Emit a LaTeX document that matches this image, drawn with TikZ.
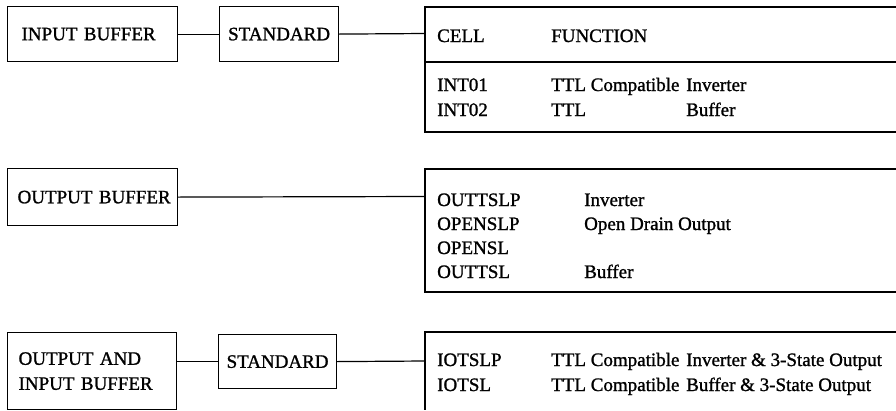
\documentclass[tikz,border=0pt]{standalone}
\usepackage{fontspec}
\setmainfont{Liberation Serif}[FakeBold=1.2]
\begin{document}
\begin{tikzpicture}[x=1pt,y=-1pt,
  every node/.style={font=\fontsize{19}{25}\selectfont},
  box/.style={draw, line width=1.2pt, anchor=north west, align=left,
    inner ysep=0pt},
  ln/.style={line width=1.2pt},
  tx/.style={anchor=base west, inner sep=0pt}]
\useasboundingbox (0,0) rectangle (896,410);
% ---- row 1
\node[box, inner xsep=14pt, text width=142pt, minimum height=55pt] (ib) at (7,6) {\mbox{INPUT BUFFER}};
\node[box, inner xsep=0pt, text width=119pt, align=center, minimum height=55pt] (std1) at (219,6) {STANDARD};
\coordinate (t1) at (425,33.5);
\draw[ln] (ib.east) -- (std1.west);
\draw[ln] (std1.east) -- (t1);
\draw[ln] (896,7) -- (425,7) -- (425,132) -- (896,132);
\draw[ln] (425,62) -- (896,62);
\node[tx] (c1) at (437,42) {CELL};
\node[tx] (f1) at (551,42) {FUNCTION};
\node[tx] (r11) at (437,91) {INT01};
\node[tx] (r12) at (551,91) {TTL Compatible};
\node[tx] (r13) at (686,91) {Inverter};
\node[tx] (r21) at (437,116) {INT02};
\node[tx] (r22) at (551,116) {TTL};
\node[tx] (r23) at (686,116) {Buffer};
% ---- row 2
\node[box, inner xsep=10pt, text width=150pt, minimum height=57pt] (ob) at (7,168) {\mbox{OUTPUT BUFFER}};
\coordinate (t2) at (425,196.5);
\draw[ln] (ob.east) -- (t2);
\draw[ln] (896,169) -- (425,169) -- (425,292) -- (896,292);
\node[tx] (o11) at (437,206) {OUTTSLP};
\node[tx] (o12) at (584,206) {Inverter};
\node[tx] (o21) at (437,230) {OPENSLP};
\node[tx] (o22) at (584,230) {Open Drain Output};
\node[tx] (o31) at (437,254) {OPENSL};
\node[tx] (o41) at (437,278) {OUTTSL};
\node[tx] (o42) at (584,278) {Buffer};
% ---- row 3
\node[box, inner xsep=11pt, text width=147pt, minimum height=77pt] (oib) at (7,332) {OUTPUT AND\\INPUT BUFFER};
\node[box, inner xsep=0pt, text width=118pt, align=center, minimum height=54pt] (std2) at (218,334) {STANDARD};
\coordinate (t3) at (425,361);
\draw[ln] (oib.east |- std2.west) -- (std2.west);
\draw[ln] (std2.east) -- (t3);
\draw[ln] (896,332) -- (425,332) -- (425,410);
\node[tx] (i11) at (437,366) {IOTSLP};
\node[tx] (i12) at (551,366) {TTL Compatible};
\node[tx] (i13) at (686,366) {Inverter \& 3-State Output};
\node[tx] (i21) at (437,391) {IOTSL};
\node[tx] (i22) at (551,391) {TTL Compatible};
\node[tx] (i23) at (686,391) {Buffer \& 3-State Output};
\end{tikzpicture}
\end{document}
